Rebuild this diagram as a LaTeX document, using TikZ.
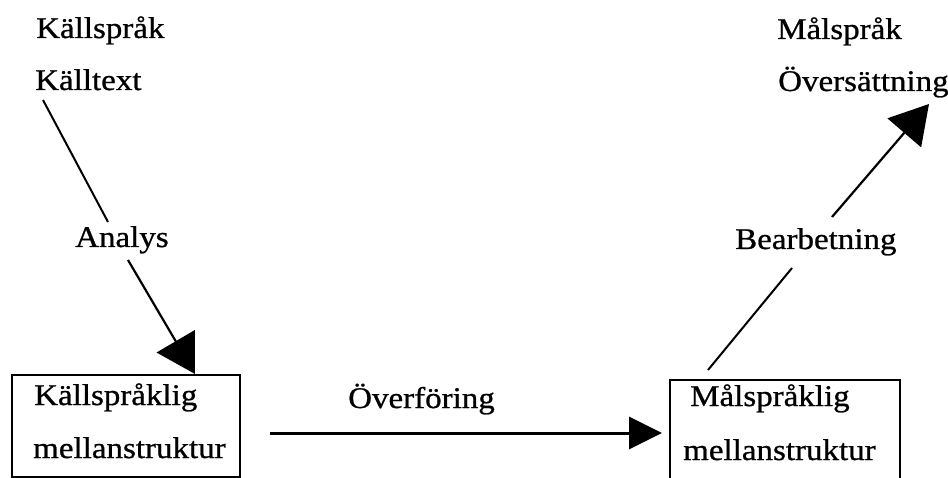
\documentclass[tikz,border=0pt]{standalone}
\usepackage{fontspec}
\setmainfont{Liberation Serif}[FakeStretch=1.1,FakeBold=0.8]
\usetikzlibrary{arrows.meta}
\begin{document}
\begin{tikzpicture}[x=1pt,y=-1pt,
  lbl/.style={font=\fontsize{30}{36}\selectfont, inner sep=0pt, anchor=base west},
  box/.style={draw, line width=2pt},
  plain/.style={line width=2pt},
  bigarrow/.style={line width=2.2pt, -{Triangle[length=38pt,width=44pt]}},
  harrow/.style={line width=3pt, -{Triangle[length=33pt,width=32pt]}}]
\useasboundingbox (0,0) rectangle (948,478);
% top labels
\node[lbl] (kallsprak) at (36,38) {Källspråk};
\node[lbl] (kalltext) at (35,90) {Källtext};
\node[lbl] (malsprak) at (777,39) {Målspråk};
\node[lbl] (oversattning) at (778,91) {Översättning};
% middle labels
\node[lbl] (analys) at (75,247) {Analys};
\node[lbl] (bearbetning) at (735,249) {Bearbetning};
\node[lbl] (overforing) at (348,408) {Överföring};
% boxes
\draw[box] (12,477) -- (12,375) -- (240,375) -- (240,477) -- cycle;
\node[lbl] (ktext1) at (34,405) {Källspråklig};
\node[lbl] (ktext2) at (33,458) {mellanstruktur};
\draw[box] (670,482) -- (670,380) -- (900,380) -- (900,482);
\node[lbl] (mtext1) at (690,406) {Målspråklig};
\node[lbl] (mtext2) at (683,460) {mellanstruktur};
% connector end points
\coordinate (c1) at (43,100);
\coordinate (c2) at (108,222);
\coordinate (c3) at (128,260);
\coordinate (c4) at (195,374);
\coordinate (c5) at (270,433);
\coordinate (c6) at (662,433);
\coordinate (c7) at (708,370);
\coordinate (c8) at (792,268);
\coordinate (c9) at (832,217);
\coordinate (c10) at (929,104);
% connectors
\draw[plain] (c1) -- (c2);
\draw[bigarrow] (c3) -- (c4);
\draw[harrow] (c5) -- (c6);
\draw[plain] (c7) -- (c8);
\draw[bigarrow] (c9) -- (c10);
\end{tikzpicture}
\end{document}
